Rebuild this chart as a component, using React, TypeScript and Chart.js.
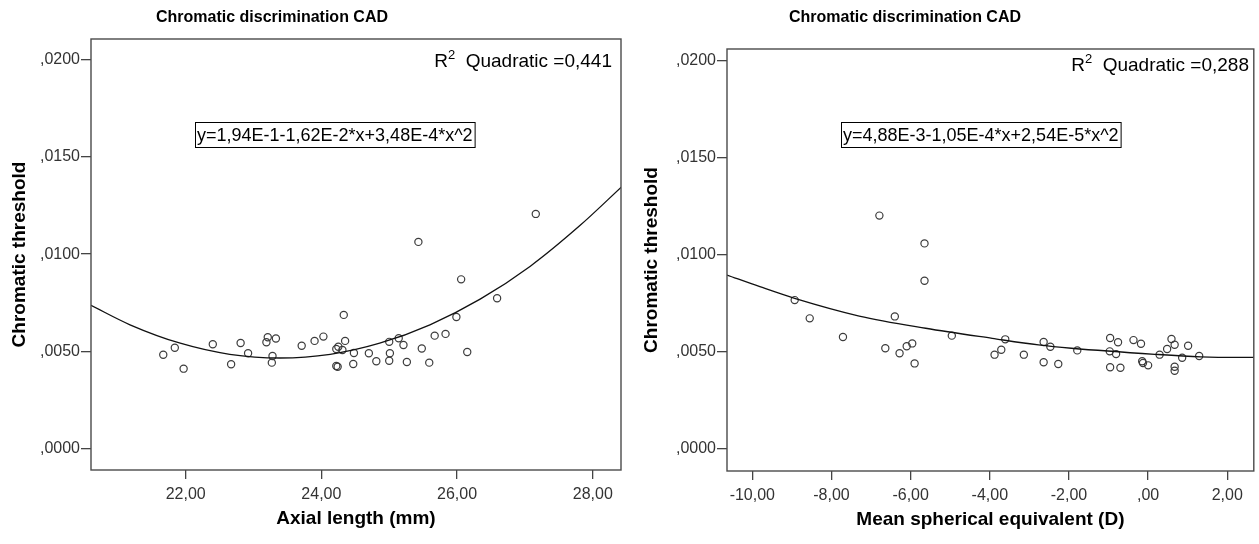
import React, { useEffect, useRef } from 'react';
import { Chart, registerables } from 'chart.js';
Chart.register(...registerables);

// ---------- shared ----------
const CHART_TITLE = 'Chromatic discrimination CAD';
const Y_TITLE = 'Chromatic threshold';
const Y_TICKS = [0, 0.005, 0.01, 0.015, 0.02];
const Y_TICK_LABELS = [',0000', ',0050', ',0100', ',0150', ',0200'];

// ---------- left: axial length ----------
const AXL_TITLE = 'Axial length (mm)';
const AXL_TICKS = [22, 24, 26, 28];
const AXL_TICK_LABELS = ['22,00', '24,00', '26,00', '28,00'];
const AXL_X = [21.67, 21.84, 21.97, 22.40, 22.67, 22.81, 22.92, 23.21, 23.19, 23.33, 23.28, 23.27, 23.71, 23.90, 24.03, 24.33, 24.22, 24.25, 24.31, 24.35, 24.22, 24.24, 24.48, 24.47, 24.70, 24.81, 25.00, 25.01, 25.00, 25.14, 25.21, 25.26, 25.48, 25.59, 25.67, 25.83, 25.43, 26.06, 26.59, 25.99, 26.15, 27.16];
const AXL_Y = [0.00482, 0.00518, 0.00410, 0.00536, 0.00433, 0.00542, 0.00489, 0.00572, 0.00546, 0.00565, 0.00475, 0.00441, 0.00528, 0.00553, 0.00575, 0.00687, 0.00511, 0.00523, 0.00506, 0.00553, 0.00424, 0.00420, 0.00491, 0.00434, 0.00489, 0.00448, 0.00548, 0.00489, 0.00451, 0.00567, 0.00532, 0.00444, 0.00514, 0.00441, 0.00580, 0.00589, 0.01063, 0.00870, 0.00773, 0.00676, 0.00496, 0.01207];
const AXL_FIT_X = [20.605, 21.18, 21.92, 22.65, 23.39, 24.13, 24.86, 25.60, 26.34, 27.08, 27.81, 28.42];
const AXL_FIT_Y = [0.00736, 0.00636, 0.00541, 0.00484, 0.00465, 0.00484, 0.00541, 0.00636, 0.00768, 0.00938, 0.01147, 0.01345];
const AXL_R2 = '0,441';
const AXL_EQ = 'y=1,94E-1-1,62E-2*x+3,48E-4*x^2';

// ---------- right: mean spherical equivalent ----------
const MSE_TITLE = 'Mean spherical equivalent (D)';
const MSE_TICKS = [-10, -8, -6, -4, -2, 0, 2];
const MSE_TICK_LABELS = ['-10,00', '-8,00', '-6,00', '-4,00', '-2,00', ',00', '2,00'];
const MSE_X = [-6.79, -5.65, -5.65, -8.93, -8.55, -7.71, -6.40, -6.64, -6.28, -6.10, -5.96, -5.90, -4.96, -3.61, -3.71, -3.88, -3.14, -2.64, -2.47, -2.64, -2.27, -1.79, -0.96, -0.76, -0.97, -0.81, -0.96, -0.70, -0.37, -0.18, -0.15, -0.13, 0.00, 0.29, 0.48, 0.59, 0.67, 1.01, 0.86, 0.67, 0.67, 1.29];
const MSE_Y = [0.01202, 0.01059, 0.00867, 0.00767, 0.00673, 0.00577, 0.00683, 0.00519, 0.00493, 0.00529, 0.00544, 0.00441, 0.00584, 0.00565, 0.00511, 0.00486, 0.00486, 0.00551, 0.00527, 0.00447, 0.00438, 0.00508, 0.00572, 0.00550, 0.00503, 0.00489, 0.00421, 0.00419, 0.00561, 0.00542, 0.00452, 0.00443, 0.00431, 0.00486, 0.00515, 0.00567, 0.00537, 0.00532, 0.00470, 0.00424, 0.00403, 0.00479];
const MSE_FIT_X = [-10.64, -9.81, -8.93, -7.30, -5.62, -3.94, -2.77, -1.94, 0.17, 1.33, 2.26, 2.67];
const MSE_FIT_Y = [0.00896, 0.00836, 0.00776, 0.00685, 0.00622, 0.00570, 0.00536, 0.00519, 0.00488, 0.00475, 0.00472, 0.00472];
const MSE_R2 = '0,288';
const MSE_EQ = 'y=4,88E-3-1,05E-4*x+2,54E-5*x^2';

const FONT = "'Liberation Sans', Arial, sans-serif";
const NARROW = "'Liberation Sans Narrow', 'Liberation Sans', sans-serif";

type PanelCfg = {
  left: number; width: number;
  xTitle: string; xTicks: number[]; xLabels: string[];
  xs: number[]; ys: number[]; fx: number[]; fy: number[];
  xMin: number; xMax: number; yMin: number; yMax: number;
  pad: { left: number; top: number; right: number; bottom: number };
  yAxisW: number; yTitlePad: number;
  titleX: number; r2Right: number; r2Y: number; eqLeft: number; eqY: number;
  r2: string; eq: string;
};

const overlay = {
  id: 'overlay',
  afterDraw(chart: any, _a: any, opts: any) {
    const ctx = chart.ctx as CanvasRenderingContext2D;
    const ca = chart.chartArea;
    const p: PanelCfg = opts.cfg;
    ctx.save();
    // frame
    ctx.strokeStyle = '#4a4a4a';
    ctx.lineWidth = 1.4;
    ctx.strokeRect(ca.left, ca.top, ca.right - ca.left, ca.bottom - ca.top);
    // title
    ctx.fillStyle = '#000';
    ctx.font = `bold 16px ${FONT}`;
    ctx.textAlign = 'center';
    ctx.textBaseline = 'middle';
    ctx.fillText(CHART_TITLE, p.titleX, 18);
    // R2 label
    ctx.font = `19px ${FONT}`;
    const rest = `  Quadratic =${p.r2}`;
    const wR = ctx.measureText('R').width;
    const wRest = ctx.measureText(rest).width;
    ctx.font = `13px ${FONT}`;
    const w2 = ctx.measureText('2').width;
    const total = wR + w2 + wRest;
    let x = p.r2Right - total;
    const y = p.r2Y;
    ctx.textAlign = 'left';
    ctx.font = `19px ${FONT}`;
    ctx.fillText('R', x, y);
    x += wR;
    ctx.font = `13px ${FONT}`;
    ctx.fillText('2', x, y - 7);
    x += w2;
    ctx.font = `19px ${FONT}`;
    ctx.fillText(rest, x, y);
    // equation box
    ctx.font = `18px ${FONT}`;
    const wEq = ctx.measureText(p.eq).width;
    ctx.fillText(p.eq, p.eqLeft + 2, p.eqY + 1);
    ctx.strokeStyle = '#000';
    ctx.lineWidth = 1;
    ctx.strokeRect(p.eqLeft + 0.5, p.eqY - 12.5, wEq + 4, 25);
    ctx.restore();
  },
};

function Panel({ p }: { p: PanelCfg }) {
  const ref = useRef<HTMLCanvasElement>(null);
  useEffect(() => {
    const pts = p.xs.map((v, i) => ({ x: v, y: p.ys[i] }));
    const fit = p.fx.map((v, i) => ({ x: v, y: p.fy[i] }));
    const chart = new Chart(ref.current as HTMLCanvasElement, {
      type: 'scatter',
      data: {
        datasets: [
          {
            data: fit,
            showLine: true,
            borderColor: '#111',
            borderWidth: 1.3,
            pointRadius: 0,
            cubicInterpolationMode: 'monotone',
            fill: false,
          } as any,
          {
            data: pts,
            pointRadius: 3.6,
            pointBorderWidth: 1.2,
            borderColor: '#3c3c3c',
            backgroundColor: 'rgba(0,0,0,0)',
            pointStyle: 'circle',
          },
        ],
      },
      options: {
        responsive: false,
        animation: false,
        devicePixelRatio: 1,
        events: [],
        layout: { padding: p.pad },
        plugins: {
          legend: { display: false },
          tooltip: { enabled: false },
          title: { display: false },
          overlay: { cfg: p },
        } as any,
        scales: {
          x: {
            type: 'linear',
            min: p.xMin,
            max: p.xMax,
            afterBuildTicks: (s: any) => { s.ticks = p.xTicks.map((v) => ({ value: v })); },
            afterFit: (s: any) => { s.height = 60; },
            ticks: {
              callback: (v: any) => p.xLabels[p.xTicks.indexOf(Number(v))],
              font: { family: FONT, size: 16 },
              color: '#333',
              padding: 6,
              maxRotation: 0,
              autoSkip: false,
            },
            grid: { drawOnChartArea: false, drawTicks: true, tickLength: 9, color: '#444', lineWidth: 1.3 },
            border: { display: false },
            title: {
              display: true,
              text: p.xTitle,
              font: { family: NARROW, size: 19, weight: 'bold' },
              color: '#000',
              padding: { top: 0, bottom: 0 },
            },
          },
          y: {
            type: 'linear',
            min: p.yMin,
            max: p.yMax,
            afterBuildTicks: (s: any) => { s.ticks = Y_TICKS.map((v) => ({ value: v })); },
            afterFit: (s: any) => { s.width = p.yAxisW; },
            ticks: {
              callback: (v: any) => Y_TICK_LABELS[Y_TICKS.findIndex((t) => Math.abs(t - Number(v)) < 1e-9)],
              font: { family: FONT, size: 16 },
              color: '#333',
              padding: 1,
            },
            grid: { drawOnChartArea: false, drawTicks: true, tickLength: 10, color: '#444', lineWidth: 1.3 },
            border: { display: false },
            title: {
              display: true,
              text: Y_TITLE,
              font: { family: NARROW, size: 19, weight: 'bold' },
              color: '#000',
              padding: { top: p.yTitlePad, bottom: 0 },
            },
          },
        },
      },
      plugins: [overlay as any],
    });
    return () => chart.destroy();
  }, []);
  return (
    <canvas
      ref={ref}
      width={p.width}
      height={544}
      style={{ position: 'absolute', left: p.left, top: 0, width: p.width, height: 544 }}
    />
  );
}

const LEFT: PanelCfg = {
  left: 0, width: 630,
  xTitle: AXL_TITLE, xTicks: AXL_TICKS, xLabels: AXL_TICK_LABELS,
  xs: AXL_X, ys: AXL_Y, fx: AXL_FIT_X, fy: AXL_FIT_Y,
  xMin: 20.605, xMax: 28.416, yMin: -0.00112, yMax: 0.02108,
  pad: { left: 0, top: 39, right: 9, bottom: 14 },
  yAxisW: 91, yTitlePad: 8,
  titleX: 272, r2Right: 612, r2Y: 62, eqLeft: 195, eqY: 135,
  r2: AXL_R2, eq: AXL_EQ,
};

const RIGHT: PanelCfg = {
  left: 630, width: 629,
  xTitle: MSE_TITLE, xTicks: MSE_TICKS, xLabels: MSE_TICK_LABELS,
  xs: MSE_X, ys: MSE_Y, fx: MSE_FIT_X, fy: MSE_FIT_Y,
  xMin: -10.64, xMax: 2.67, yMin: -0.00113, yMax: 0.0206,
  pad: { left: 0, top: 49, right: 3, bottom: 13 },
  yAxisW: 97, yTitlePad: 10,
  titleX: 275, r2Right: 619, r2Y: 66, eqLeft: 211, eqY: 135,
  r2: MSE_R2, eq: MSE_EQ,
};

export default function App() {
  return (
    <div style={{ position: 'fixed', left: 0, top: 0, width: 1259, height: 544, background: '#fff' }}>
      <Panel p={LEFT} />
      <Panel p={RIGHT} />
    </div>
  );
}
